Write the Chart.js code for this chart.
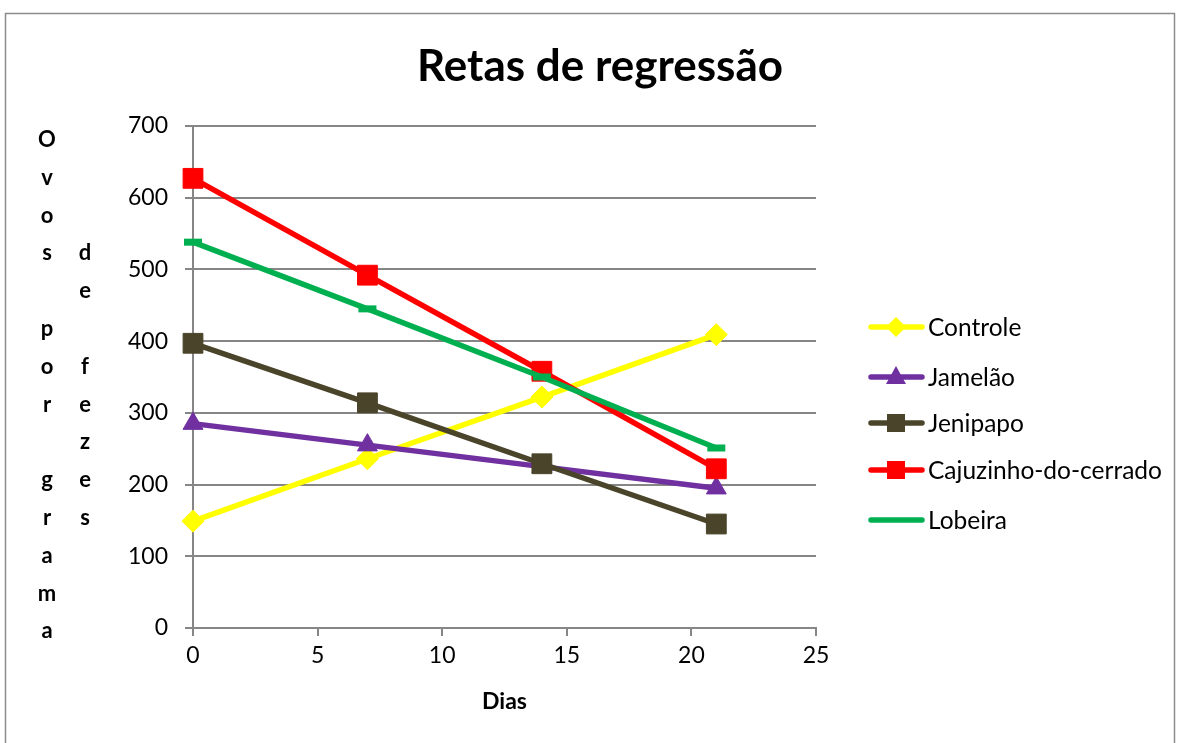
<!DOCTYPE html>
<html>
<head>
<meta charset="utf-8">
<script src="https://cdn.jsdelivr.net/npm/chart.js@4.4.1/dist/chart.umd.min.js"></script>
<style>
  html, body { margin: 0; padding: 0; background: #fff; }
  #wrap { width: 1178px; height: 743px; position: relative; }
</style>
</head>
<body>
<div id="wrap"><canvas id="grafico" width="1178" height="743"></canvas></div>
<script>
// Dados
const dias = [0, 7, 14, 21];
const controle = [149, 236, 322, 409];
const jamelao = [285, 255, 225, 195];
const jenipapo = [397, 314, 229, 145];
const cajuzinho = [627, 492, 358, 222];
const lobeira = [538, 445, 350, 251];

const nomesSeries = ['Controle', 'Jamelão', 'Jenipapo', 'Cajuzinho-do-cerrado', 'Lobeira'];
const ticksY = [0, 100, 200, 300, 400, 500, 600, 700];
const ticksX = [0, 5, 10, 15, 20, 25];

const FONTE = "Lato, 'Open Sans', sans-serif";
const CINZA = '#868686';

const pontos = (vals) => vals.map((v, i) => ({ x: dias[i], y: v }));

const estilos = [
    { cor: '#FFFF00', ponto: 'rectRot', raio: 11 },
    { cor: '#7030A0', ponto: 'triangle', raio: 11.5 },
    { cor: '#4A452A', ponto: 'rect', raio: 14 },
    { cor: '#FF0000', ponto: 'rect', raio: 14 },
    { cor: '#00B050', ponto: 'line', raio: 9 }
];

const series = [controle, jamelao, jenipapo, cajuzinho, lobeira];

const datasets = series.map((vals, i) => ({
    label: nomesSeries[i],
    data: pontos(vals),
    borderColor: estilos[i].cor,
    backgroundColor: estilos[i].cor,
    pointBackgroundColor: estilos[i].cor,
    pointBorderColor: estilos[i].cor,
    pointBorderWidth: estilos[i].ponto === 'line' ? 7 : 1,
    pointStyle: estilos[i].ponto,
    pointRadius: estilos[i].raio,
    borderWidth: 5.5,
    showLine: true,
    tension: 0,
    clip: false,
    order: 4 - i
}));

// Desenha um marcador simples (para a legenda)
function desenharMarcador(ctx, estilo, x, y) {
    ctx.fillStyle = estilo.cor;
    ctx.beginPath();
    if (estilo.ponto === 'rect') {
        ctx.rect(x - 9, y - 9, 18, 18);
        ctx.fill();
    } else if (estilo.ponto === 'rectRot') {
        ctx.moveTo(x, y - 10);
        ctx.lineTo(x + 10, y);
        ctx.lineTo(x, y + 10);
        ctx.lineTo(x - 10, y);
        ctx.closePath();
        ctx.fill();
    } else if (estilo.ponto === 'triangle') {
        ctx.moveTo(x, y - 11);
        ctx.lineTo(x + 10, y + 7);
        ctx.lineTo(x - 10, y + 7);
        ctx.closePath();
        ctx.fill();
    }
}

const extras = {
    id: 'extras',
    afterDraw(chart) {
        const ctx = chart.ctx;
        ctx.save();

        // moldura
        ctx.strokeStyle = '#8c8c8c';
        ctx.lineWidth = 1.5;
        ctx.strokeRect(5.5, 13.5, 1169, 740);

        // título
        ctx.fillStyle = '#000';
        ctx.textAlign = 'center';
        ctx.textBaseline = 'middle';
        ctx.font = 'bold 44px ' + FONTE;
        ctx.fillText('Retas de regressão', 600, 67);

        // título do eixo y, letras empilhadas em duas colunas
        ctx.font = 'bold 22px ' + FONTE;
        const col1 = 'Ovos por grama';
        const col2 = 'de fezes';
        const passo = 37.8;
        for (let i = 0; i < col1.length; i++) {
            if (col1[i] !== ' ') ctx.fillText(col1[i], 47, 140 + i * passo);
        }
        for (let i = 0; i < col2.length; i++) {
            if (col2[i] !== ' ') ctx.fillText(col2[i], 85, 140 + (i + 3) * passo);
        }

        // legenda
        ctx.textAlign = 'left';
        ctx.font = '24.5px ' + FONTE;
        const ysLeg = [327, 377, 423, 470, 520];
        nomesSeries.forEach((nome, i) => {
            const y = ysLeg[i];
            ctx.strokeStyle = estilos[i].cor;
            ctx.lineWidth = 5.5;
            ctx.lineCap = 'round';
            ctx.beginPath();
            ctx.moveTo(871, y);
            ctx.lineTo(922, y);
            ctx.stroke();
            desenharMarcador(ctx, estilos[i], 896, y);
            ctx.fillStyle = '#000';
            ctx.fillText(nome, 928, y + 1);
        });
        ctx.restore();
    }
};

new Chart(document.getElementById('grafico'), {
    type: 'scatter',
    data: { datasets },
    options: {
        responsive: false,
        animation: false,
        devicePixelRatio: 1,
        layout: { padding: { left: 0, top: 126, right: 1178 - 816, bottom: 24 } },
        plugins: {
            legend: { display: false },
            title: { display: false },
            tooltip: { enabled: false }
        },
        scales: {
            x: {
                type: 'linear',
                min: 0,
                max: 25,
                afterBuildTicks: (s) => { s.ticks = ticksX.map(v => ({ value: v })); },
                afterFit: (s) => { s.height = 743 - 628 - 24; },
                grid: {
                    color: (c) => (c.tick && c.tick.value === 0 ? CINZA : 'rgba(0,0,0,0)'),
                    tickColor: CINZA,
                    tickLength: 8,
                    lineWidth: 2
                },
                border: { color: CINZA, width: 2 },
                ticks: {
                    color: '#000',
                    font: { family: FONTE, size: 23 },
                    padding: 6
                },
                title: {
                    display: true,
                    text: 'Dias',
                    color: '#000',
                    font: { family: FONTE, size: 23, weight: 'bold' },
                    padding: { top: 4 }
                }
            },
            y: {
                min: 0,
                max: 700,
                afterBuildTicks: (s) => { s.ticks = ticksY.map(v => ({ value: v })); },
                afterFit: (s) => { s.width = 193; },
                grid: {
                    color: CINZA,
                    tickColor: CINZA,
                    tickLength: 8,
                    lineWidth: 2
                },
                border: { color: CINZA, width: 2 },
                ticks: {
                    color: '#000',
                    font: { family: FONTE, size: 23 },
                    padding: 17
                }
            }
        }
    },
    plugins: [extras]
});
</script>
</body>
</html>
